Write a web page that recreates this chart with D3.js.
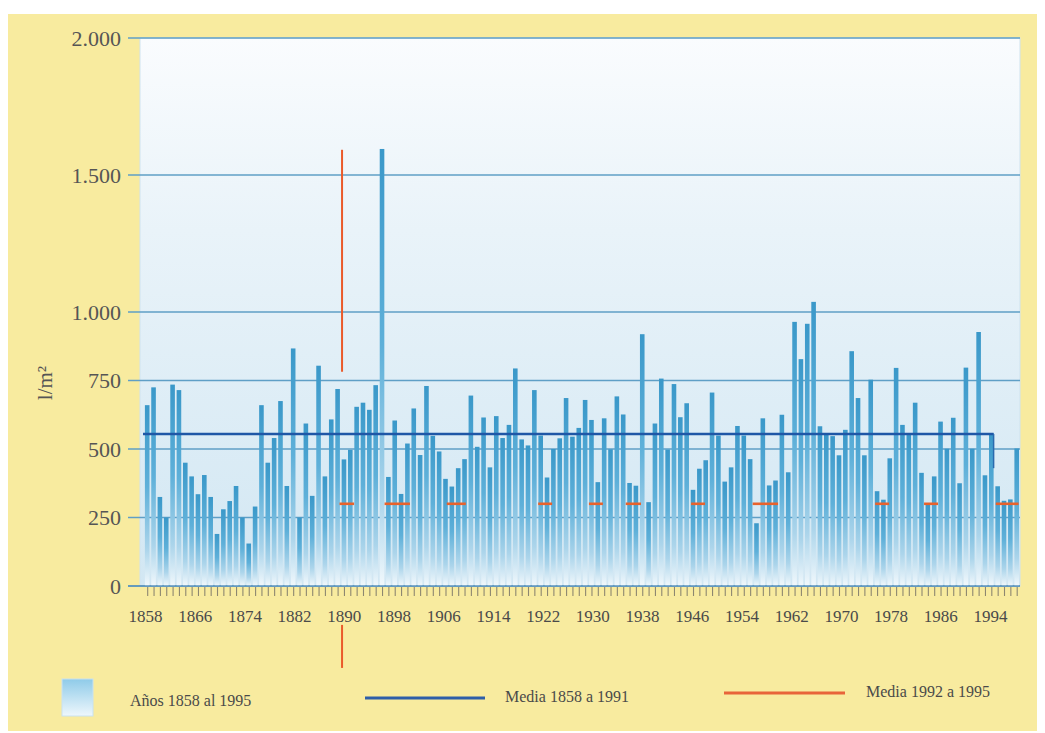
<!DOCTYPE html>
<html><head><meta charset="utf-8">
<script src="https://cdn.jsdelivr.net/npm/d3@7"></script>
<style>body{margin:0;background:#fff}svg{display:block}</style>
</head><body><svg id="c" width="1045" height="733"></svg>
<script>
// ---- data ----
const firstYear = 1858, lastYear = 1995;
const rainfall = [
 660,725,325,250,735,715,450,400,335,405,325,190,280,310,365,250,155,290,660,450,540,675,365,867,
 250,593,329,804,400,608,719,462,497,654,669,643,733,1595,398,604,336,520,648,478,730,548,
 491,391,363,430,463,695,508,615,433,620,540,588,794,535,513,715,549,396,500,539,686,545,577,
 679,606,379,612,499,692,626,376,366,919,306,593,757,498,737,616,667,351,428,459,706,549,381,
 433,584,549,463,229,612,367,385,625,415,964,828,957,1037,583,552,547,477,570,857,686,477,753,
 346,315,466,796,588,551,669,413,301,400,600,501,614,375,797,501,927,404,558,364,311,316,502];
const years = d3.range(firstYear, lastYear + 1);
const yTicks = [0, 250, 500, 750, 1000, 1500, 2000];
const yTickLabels = ["0", "250", "500", "750", "1.000", "1.500", "2.000"];
const xTickLabels = ["1858","1866","1874","1882","1890","1898","1906","1914","1922","1930","1938","1946","1954","1962","1970","1978","1986","1994"];
const meanValue = 555, meanFrom = 1858, meanTo = 1991;
const recentMean = 300;
const recentFrom = [1888.3, 1895.4, 1905.2, 1919.6, 1927.6, 1933.4, 1943.7, 1953.4, 1972.7, 1980.4, 1991.7];
const recentTo   = [1890.6, 1899.4, 1908.2, 1921.8, 1929.8, 1935.8, 1945.9, 1957.4, 1974.9, 1982.6, 1995.3];
const markYear = 1888.7;
const markTop = [1592, -142], markBottom = [782, -299];
const legendLabels = ["Años 1858 al 1995", "Media 1858 a 1991", "Media 1992 a 1995"];
const yTitle = "l/m²";

// ---- drawing ----
const svg = d3.select("#c");
const serif = "'Liberation Serif','DejaVu Serif',serif";
const plot = {left: 140, right: 1020, top: 38, bottom: 586};
const x = d3.scaleLinear().domain([firstYear, lastYear]).range([147.2, 1016.7]);
const y = d3.scaleLinear().domain([0, 2000]).range([plot.bottom, plot.top]);
const xLab = d3.scalePoint().domain(xTickLabels).range([145, 990]);

const defs = svg.append("defs");
const bg = defs.append("linearGradient").attr("id","bg").attr("x1",0).attr("x2",0).attr("y1",0).attr("y2",1);
bg.append("stop").attr("offset",0).attr("stop-color","#fafcfe");
bg.append("stop").attr("offset",0.35).attr("stop-color","#e9f3f9");
bg.append("stop").attr("offset",1).attr("stop-color","#d2e7f3");
const bar = defs.append("linearGradient").attr("id","bar").attr("x1",0).attr("x2",0).attr("y1",0).attr("y2",1);
bar.append("stop").attr("offset",0).attr("stop-color","#3a98c9");
bar.append("stop").attr("offset",0.45).attr("stop-color","#5eb0d9");
bar.append("stop").attr("offset",0.8).attr("stop-color","#acd5eb");
bar.append("stop").attr("offset",1).attr("stop-color","#f1f8fc");
const lg = defs.append("linearGradient").attr("id","lg").attr("x1",0).attr("x2",0).attr("y1",0).attr("y2",1);
lg.append("stop").attr("offset",0).attr("stop-color","#8fcbe9");
lg.append("stop").attr("offset",1).attr("stop-color","#eef7fc");

// page panel
svg.append("rect").attr("x",8).attr("y",14).attr("width",1029).attr("height",717).attr("fill","#f8eb9f");
// plot background
svg.append("rect").attr("x",plot.left).attr("y",plot.top).attr("width",plot.right-plot.left)
  .attr("height",plot.bottom-plot.top).attr("fill","url(#bg)").attr("stroke","#cfe3ef").attr("stroke-width",1);

// y axis labels
const gy2 = svg.append("g").attr("transform",`translate(128,0)`)
  .call(d3.axisLeft(y).tickValues(yTicks).tickFormat((d,i)=>yTickLabels[i]).tickSize(0).tickPadding(7));
gy2.select(".domain").remove();
gy2.selectAll("text").attr("font-family",serif).attr("font-size",22).attr("fill","#555");
// gridlines with tick leaders
svg.append("g").selectAll("line").data(yTicks).join("line")
  .attr("x1",128).attr("x2",plot.right).attr("y1",d=>y(d)).attr("y2",d=>y(d))
  .attr("stroke","#5f9fc6").attr("stroke-width",1.3);

// bars
svg.append("g").selectAll("rect").data(rainfall).join("rect")
  .attr("x",(d,i)=>x(years[i])-2.3).attr("width",4.6)
  .attr("y",d=>y(d)).attr("height",d=>y(0)-y(d))
  .attr("fill","url(#bar)");

// baseline
svg.append("line").attr("x1",128).attr("x2",plot.right).attr("y1",y(0)).attr("y2",y(0))
  .attr("stroke","#5b93bd").attr("stroke-width",1.5);

// x axis minor ticks (one per year)
const gx = svg.append("g").attr("transform",`translate(0,${y(0)+1})`)
  .call(d3.axisBottom(x).tickValues(years).tickSize(9).tickFormat(""));
gx.select(".domain").remove();
gx.selectAll("line").attr("stroke","#8d8770").attr("stroke-width",1.1);
// x labels
const gxl = svg.append("g").attr("transform",`translate(0,${y(0)+24})`)
  .call(d3.axisBottom(xLab).tickSize(0).tickPadding(0));
gxl.select(".domain").remove();
gxl.selectAll("text").attr("font-family",serif).attr("font-size",17).attr("fill","#4a4a4a");

// mean 1858-1991
svg.append("line").attr("x1",plot.left+3).attr("x2",x(meanTo)+2.3)
  .attr("y1",y(meanValue)).attr("y2",y(meanValue)).attr("stroke","#1f57a6").attr("stroke-width",2.6);
svg.append("line").attr("x1",x(meanTo)+2.3).attr("x2",x(meanTo)+2.3)
  .attr("y1",y(meanValue)).attr("y2",y(430)).attr("stroke","#2a6aae").attr("stroke-width",1.5);

// mean 1992-1995 segments
svg.append("g").selectAll("line").data(recentFrom).join("line")
  .attr("x1",d=>x(d)).attr("x2",(d,i)=>x(recentTo[i]))
  .attr("y1",y(recentMean)).attr("y2",y(recentMean))
  .attr("stroke","#e8622c").attr("stroke-width",2.6);

// vertical orange mark
svg.append("g").selectAll("line").data(markTop).join("line")
  .attr("x1",x(markYear)).attr("x2",x(markYear))
  .attr("y1",d=>y(d)).attr("y2",(d,i)=>y(markBottom[i]))
  .attr("stroke","#ea5a2a").attr("stroke-width",2);

// y title
svg.append("text").attr("transform","translate(52,383) rotate(-90)").attr("text-anchor","middle")
  .attr("font-family",serif).attr("font-size",21).attr("fill","#555").text(yTitle);

// legend
svg.append("rect").attr("x",62).attr("y",679).attr("width",31).attr("height",37)
  .attr("fill","url(#lg)").attr("stroke","#c9e2f0").attr("stroke-width",1);
svg.append("text").attr("x",130).attr("y",706).attr("font-family",serif).attr("font-size",16)
  .attr("fill","#4a4a4a").text(legendLabels[0]);
svg.append("line").attr("x1",365).attr("x2",485).attr("y1",698).attr("y2",698)
  .attr("stroke","#2e5ea8").attr("stroke-width",3);
svg.append("text").attr("x",505).attr("y",702).attr("font-family",serif).attr("font-size",16)
  .attr("fill","#4a4a4a").text(legendLabels[1]);
svg.append("line").attr("x1",724).attr("x2",845).attr("y1",693).attr("y2",693)
  .attr("stroke","#e8643a").attr("stroke-width",3);
svg.append("text").attr("x",866).attr("y",697).attr("font-family",serif).attr("font-size",16)
  .attr("fill","#4a4a4a").text(legendLabels[2]);
</script></body></html>
